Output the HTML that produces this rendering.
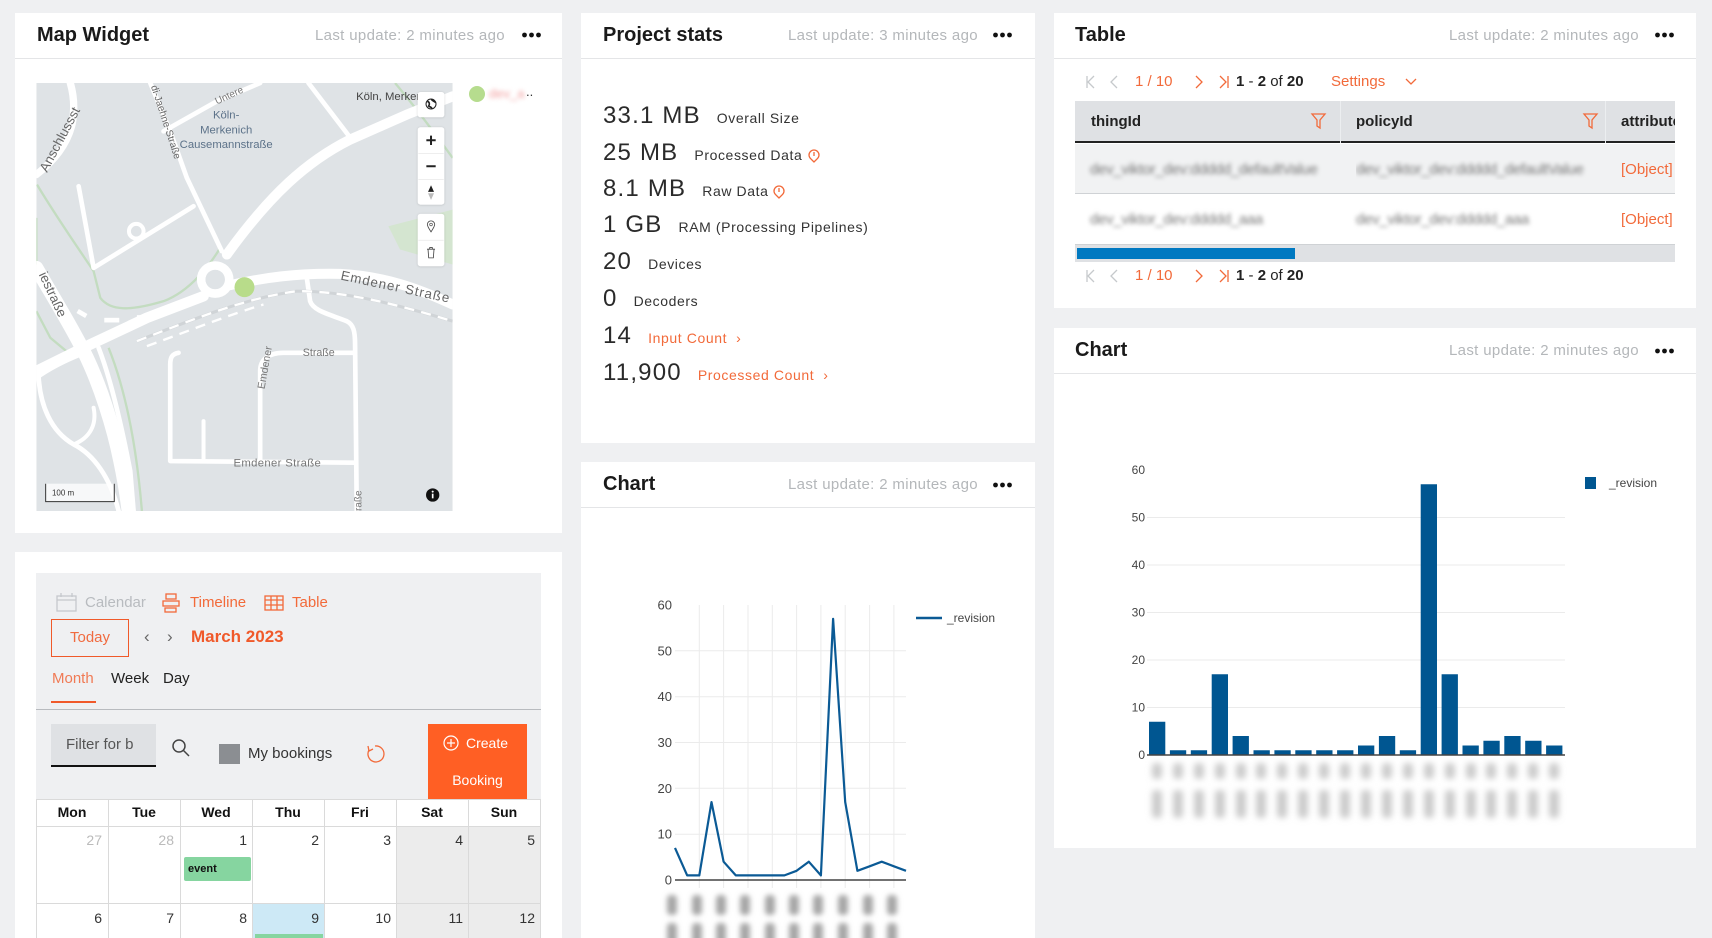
<!DOCTYPE html>
<html style="width:1712px;height:938px;overflow:hidden"><head><meta charset="utf-8">
<style>
*{margin:0;padding:0;box-sizing:border-box}
body{width:1712px;height:938px;overflow:hidden;background:#eff0f2;font-family:"Liberation Sans",sans-serif;position:relative;color:#222}
.abs{position:absolute}
.card{position:absolute;background:#fff}
.hdr{position:absolute;left:0;right:0;top:0;height:46px;border-bottom:1px solid #e4e5e7}
.title{position:absolute;left:22px;top:0;line-height:45px;font-size:20px;font-weight:bold;color:#1a1a1a}
.upd{position:absolute;right:57px;top:0;line-height:45px;font-size:15px;color:#b4b7ba;letter-spacing:0.35px;white-space:nowrap}
.row{position:absolute;left:603px;display:flex;align-items:baseline;white-space:nowrap;height:30px;line-height:30px}
.num{font-size:24px;letter-spacing:1.2px;color:#2a2a2a}
.lbl{font-size:14px;letter-spacing:0.6px;color:#333;margin-left:16px}
.org{color:#f26a3a}
.t15{font-size:15px;white-space:nowrap;position:absolute;line-height:20px}
.blur{filter:blur(2.2px)}
.calh{position:absolute;top:799px;height:27px;line-height:27px;text-align:center;font-weight:bold;font-size:14px;color:#111}
.dnum{position:absolute;font-size:14px;text-align:right;line-height:20px;color:#333}
</style></head><body>

<!-- cards -->
<div class="card" style="left:15px;top:13px;width:547px;height:520px">
  <div class="hdr"><div class="title">Map Widget</div><div class="upd">Last update: 2 minutes ago</div></div>
</div>
<div class="card" style="left:15px;top:552px;width:547px;height:386px"></div>
<div class="card" style="left:581px;top:13px;width:454px;height:430px">
  <div class="hdr"><div class="title">Project stats</div><div class="upd">Last update: 3 minutes ago</div></div>
</div>
<div class="card" style="left:581px;top:462px;width:454px;height:476px">
  <div class="hdr"><div class="title">Chart</div><div class="upd">Last update: 2 minutes ago</div></div>
</div>
<div class="card" style="left:1054px;top:13px;width:642px;height:295px">
  <div class="hdr"><div class="title" style="left:21px">Table</div><div class="upd">Last update: 2 minutes ago</div></div>
</div>
<div class="card" style="left:1054px;top:328px;width:642px;height:520px">
  <div class="hdr"><div class="title" style="left:21px">Chart</div><div class="upd">Last update: 2 minutes ago</div></div>
</div>

<!-- MAP -->
<svg class="abs" style="left:36px;top:83px" width="417" height="428" viewBox="18 15 1250 1285" font-family="Liberation Sans, sans-serif">
<defs><clipPath id="mc"><rect x="18" y="15" width="1250" height="1285"/></clipPath>
<filter id="sh" x="-20%" y="-20%" width="140%" height="140%"><feDropShadow dx="0" dy="1" stdDeviation="3" flood-color="#000" flood-opacity="0.18"/></filter></defs>
<g clip-path="url(#mc)">
<rect x="18" y="15" width="1250" height="1285" fill="#dfe3e6"/>
<path d="M1075,445 L1268,395 L1268,560 L1110,515 Z" fill="#d4e5d0"/>
<g fill="none" stroke="#c3dcc0" stroke-width="7">
<path d="M20,320 C80,420 150,520 190,580 L210,660 C240,700 300,700 400,670 C480,640 540,560 570,510"/>
<path d="M18,700 L60,780 L120,830"/>
<path d="M235,810 C275,910 315,1060 335,1300"/>
<path d="M1095,15 C1150,80 1210,160 1268,240"/>
<path d="M18,420 L18,560"/>
</g>
<g fill="none" stroke="#fff" stroke-linecap="round" stroke-linejoin="round">
<path d="M1268,55 L1130,110 L960,185 C830,250 720,350 590,530" stroke-width="30"/>
<path d="M600,622 C700,600 800,585 930,588 C1060,595 1160,630 1268,680" stroke-width="30"/>
<path d="M520,655 L350,720 L180,800 L18,880" stroke-width="32"/>
<path d="M18,570 C70,660 120,740 160,820 C210,920 250,1050 270,1150 C285,1220 290,1260 295,1300" stroke-width="42"/>
<path d="M205,810 C240,900 275,1050 300,1180 L310,1300" stroke-width="14"/>
<path d="M18,290 C70,250 110,200 125,140 C135,90 130,50 120,15" stroke-width="22"/>
<path d="M360,15 L420,160 L470,300 L575,520" stroke-width="14"/>
<path d="M400,160 L560,70 L690,15" stroke-width="14"/>
<path d="M835,15 L965,185" stroke-width="14"/>
<path d="M145,325 L190,570 L490,385" stroke-width="14"/>
<circle cx="318" cy="460" r="22" stroke-width="12"/>
<path d="M830,600 L840,670 C850,700 900,710 950,730 C970,740 975,760 975,800 L980,1300" stroke-width="14"/>
<path d="M445,825 C425,828 420,840 420,860 L420,1150 L975,1155" stroke-width="14"/>
<path d="M520,1030 L520,1150" stroke-width="12"/>
<path d="M690,1150 L690,880 C690,845 715,825 760,825 L975,825" stroke-width="14"/>
<path d="M18,900 C60,870 100,850 150,830" stroke-width="14"/>
<path d="M25,900 C30,980 60,1060 130,1100 C190,1130 240,1200 265,1300" stroke-width="14"/>
<path d="M130,1100 C180,1080 200,1040 190,990" stroke-width="12"/>
<circle cx="555" cy="605" r="42" stroke-width="26"/>
</g>
<circle cx="555" cy="605" r="29" fill="#dfe3e6"/>
<path d="M320,790 C500,720 650,660 800,640 C950,640 1100,680 1268,730" fill="none" stroke="#d0d4d7" stroke-width="9"/>
<path d="M320,790 C500,720 650,660 800,640 C950,640 1100,680 1268,730" fill="none" stroke="#fff" stroke-width="7" stroke-dasharray="30,22"/>
<path d="M350,805 C500,750 600,710 700,680" fill="none" stroke="#fff" stroke-width="7" stroke-dasharray="30,22"/>
<g fill="#fff"><rect x="140" y="700" width="30" height="14" transform="rotate(30 155 707)"/><rect x="222" y="720" width="45" height="14"/><rect x="320" y="712" width="35" height="14"/></g>
<g font-size="34" fill="#5c7289" text-anchor="middle"><text x="588" y="122">Köln-</text><text x="588" y="166">Merkenich</text><text x="588" y="210">Causemannstraße</text></g>
<text x="978" y="66" font-size="34" fill="#444">Köln, Merkenich</text>
<text x="930" y="605" font-size="40" fill="#666" letter-spacing="3" transform="rotate(12 930 605)">Emdener Straße</text>
<text x="610" y="1166" font-size="34" fill="#777" letter-spacing="1">Emdener Straße</text>
<text x="818" y="835" font-size="32" fill="#777">Straße</text>
<text x="703" y="935" font-size="32" fill="#777" transform="rotate(-80 703 935)">Emdener</text>
<text x="50" y="285" font-size="40" fill="#666" transform="rotate(-62 50 285)">Anschlussst</text>
<text x="25" y="590" font-size="40" fill="#666" transform="rotate(65 25 590)">iestraße</text>
<text x="362" y="25" font-size="30" fill="#666" transform="rotate(72 362 25)">di-Jaehne-Straße</text>
<text x="560" y="80" font-size="30" fill="#777" transform="rotate(-25 560 80)">Untere</text>
<text x="995" y="1300" font-size="30" fill="#777" transform="rotate(-90 995 1300)">raße</text>
<circle cx="643" cy="628" r="30" fill="#b8dc8a"/>
<g filter="url(#sh)" fill="#fff"><rect x="1163" y="42" width="80" height="76" rx="8"/><rect x="1163" y="148" width="80" height="232" rx="8"/><rect x="1163" y="408" width="80" height="157" rx="8"/></g>
<circle cx="1203" cy="78" r="15" fill="none" stroke="#222" stroke-width="3"/><path d="M1192,70 C1198,72 1200,78 1196,84 C1200,88 1204,86 1206,92 M1204,64 C1208,70 1214,70 1217,74" stroke="#222" stroke-width="5" fill="none"/>
<g stroke="#e3e3e3" stroke-width="2"><line x1="1165" y1="226" x2="1241" y2="226"/><line x1="1165" y1="305" x2="1241" y2="305"/><line x1="1165" y1="487" x2="1241" y2="487"/></g>
<g stroke="#222" stroke-width="6"><line x1="1189" y1="187" x2="1217" y2="187"/><line x1="1203" y1="173" x2="1203" y2="201"/><line x1="1189" y1="265" x2="1217" y2="265"/></g>
<path d="M1203,322 L1212,342 L1194,342 Z" fill="#222"/><path d="M1203,366 L1212,346 L1194,346 Z" fill="#bbb"/>
<path d="M1203,462 C1195,450 1192,445 1192,440 A11,11 0 0 1 1214,440 C1214,445 1211,450 1203,462 Z" fill="none" stroke="#444" stroke-width="2.5"/><circle cx="1203" cy="440" r="4" fill="none" stroke="#444" stroke-width="2"/>
<g fill="none" stroke="#444" stroke-width="2.5"><path d="M1191,514 L1215,514"/><path d="M1194,514 L1196,540 L1210,540 L1212,514"/><path d="M1199,514 L1199,509 L1207,509 L1207,514"/></g>
<circle cx="1208" cy="1252" r="20" fill="#111"/><circle cx="1208" cy="1242" r="3" fill="#fff"/><rect x="1205.5" y="1248" width="5" height="14" fill="#fff"/>
<rect x="45" y="1218" width="208" height="54" fill="rgba(255,255,255,0.75)"/>
<path d="M46,1218 L46,1272 L252,1272 L252,1218" fill="none" stroke="#333" stroke-width="3"/>
<text x="65" y="1253" font-size="24" fill="#333">100 m</text>
</g></svg>
<svg class="abs" style="left:469px;top:86px" width="16" height="16"><circle cx="8" cy="8" r="8" fill="#b6dc8e"/></svg>
<div class="abs blur" style="left:489px;top:86px;font-size:13px;color:#f2a0a0;line-height:16px">dev_a</div>
<div class="abs" style="left:526px;top:84px;font-size:13px;color:#333;line-height:16px">..</div>

<!-- PROJECT STATS -->
<div class="row" style="top:101px"><span class="num">33.1 MB</span><span class="lbl">Overall Size</span></div>
<div class="row" style="top:138px"><span class="num">25 MB</span><span class="lbl">Processed Data</span></div>
<div class="row" style="top:174px"><span class="num">8.1 MB</span><span class="lbl">Raw Data</span></div>
<div class="row" style="top:210px"><span class="num">1 GB</span><span class="lbl">RAM (Processing Pipelines)</span></div>
<div class="row" style="top:247px"><span class="num">20</span><span class="lbl">Devices</span></div>
<div class="row" style="top:284px"><span class="num">0</span><span class="lbl">Decoders</span></div>
<div class="row" style="top:321px"><span class="num">14</span><span class="lbl org">Input Count &nbsp;›</span></div>
<div class="row" style="top:358px"><span class="num">11,900</span><span class="lbl org">Processed Count &nbsp;›</span></div>

<!-- TABLE -->
<div class="abs" style="left:1075px;top:101px;width:600px;height:42px;background:#dfe1e4;border-bottom:2px solid #222"></div>
<div class="abs" style="left:1340px;top:101px;width:1px;height:42px;background:#eceef0"></div>
<div class="abs" style="left:1605px;top:101px;width:1px;height:42px;background:#eceef0"></div>
<div class="t15" style="left:1091px;top:112px;font-weight:bold;color:#222">thingId</div>
<div class="t15" style="left:1356px;top:112px;font-weight:bold;color:#222">policyId</div>
<div class="abs" style="left:1621px;top:112px;width:54px;overflow:hidden"><div class="t15" style="position:static;font-weight:bold;color:#222">attributes</div></div>
<div class="abs" style="left:1075px;top:144px;width:600px;height:50px;background:#f1f2f3;border-bottom:1px solid #cfd2d5"></div>
<div class="abs" style="left:1075px;top:195px;width:600px;height:50px;background:#fff;border-bottom:1px solid #cfd2d5"></div>
<div class="t15 blur" style="left:1090px;top:160px;color:#777;letter-spacing:-0.3px">dev_viktor_dev:ddddd_defaultValue</div>
<div class="abs" style="left:1356px;top:160px;width:245px;overflow:hidden"><div class="t15 blur" style="position:static;color:#777;letter-spacing:-0.3px">dev_viktor_dev:ddddd_defaultValue</div></div>
<div class="t15 blur" style="left:1090px;top:210px;color:#777;letter-spacing:-0.3px">dev_viktor_dev:ddddd_aaa</div>
<div class="t15 blur" style="left:1356px;top:210px;color:#777;letter-spacing:-0.3px">dev_viktor_dev:ddddd_aaa</div>
<div class="abs" style="left:1621px;top:160px;width:54px;overflow:hidden"><div class="t15 org" style="position:static">[Object]</div></div>
<div class="abs" style="left:1621px;top:210px;width:54px;overflow:hidden"><div class="t15 org" style="position:static">[Object]</div></div>
<div class="abs" style="left:1075px;top:245px;width:600px;height:17px;background:#dfe1e4"></div>
<div class="abs" style="left:1077px;top:248px;width:218px;height:11px;background:#0079c1"></div>
<div class="t15 org" style="left:1135px;top:72px">1 / 10</div>
<div class="t15" style="left:1236px;top:72px;color:#222"><b>1</b> - <b>2</b> of <b>20</b></div>
<div class="t15 org" style="left:1331px;top:72px">Settings</div>
<div class="t15 org" style="left:1135px;top:266px">1 / 10</div>
<div class="t15" style="left:1236px;top:266px;color:#222"><b>1</b> - <b>2</b> of <b>20</b></div>

<!-- CALENDAR -->
<div class="abs" style="left:36px;top:573px;width:505px;height:365px;background:#eff0f2"></div>
<div class="t15" style="left:85px;top:593px;color:#b8bbbf">Calendar</div>
<div class="t15 org" style="left:190px;top:593px">Timeline</div>
<div class="t15 org" style="left:292px;top:593px">Table</div>
<div class="abs" style="left:51px;top:619px;width:78px;height:38px;border:1px solid #f0592a;color:#f06b40;font-size:15px;line-height:36px;text-align:center">Today</div>
<div class="t15" style="left:144px;top:627px;color:#666;font-size:17px">‹</div>
<div class="t15" style="left:167px;top:627px;color:#666;font-size:17px">›</div>
<div class="t15" style="left:191px;top:627px;font-size:17px;font-weight:bold;color:#f0592a">March 2023</div>
<div class="t15" style="left:52px;top:669px;color:#f07a55">Month</div>
<div class="t15" style="left:111px;top:669px;color:#222">Week</div>
<div class="t15" style="left:163px;top:669px;color:#222">Day</div>
<div class="abs" style="left:51px;top:701px;width:45px;height:2px;background:#f0592a"></div>
<div class="abs" style="left:36px;top:709px;width:505px;height:1px;background:#b8bbbf"></div>
<div class="abs" style="left:51px;top:724px;width:105px;height:43px;background:#dfe1e4;border-bottom:2px solid #111"></div>
<div class="t15" style="left:66px;top:735px;color:#555">Filter for b</div>
<div class="abs" style="left:219px;top:744px;width:21px;height:20px;background:#8b8e92"></div>
<div class="t15" style="left:248px;top:744px;color:#333">My bookings</div>
<div class="abs" style="left:428px;top:724px;width:99px;height:75px;background:#ff5f24"></div>
<div class="t15" style="left:466px;top:733px;color:#fff;font-size:14px">Create</div>
<div class="t15" style="left:428px;width:99px;text-align:center;top:770px;color:#fff;font-size:14px">Booking</div>
<div class="abs" style="left:36px;top:799px;width:505px;height:139px;background:#fff"></div>
<div class="abs" style="left:396.7px;top:826px;width:144.3px;height:112px;background:#ececec"></div>
<div class="abs" style="left:252.4px;top:903px;width:72.2px;height:35px;background:#cde9f6"></div>
<div class="calh" style="left:36px;width:72px">Mon</div>
<div class="calh" style="left:108px;width:72px">Tue</div>
<div class="calh" style="left:180px;width:72px">Wed</div>
<div class="calh" style="left:252px;width:72px">Thu</div>
<div class="calh" style="left:324px;width:72px">Fri</div>
<div class="calh" style="left:396px;width:72px">Sat</div>
<div class="calh" style="left:468px;width:72px">Sun</div>
<div class="dnum" style="left:36px;width:66px;top:830px;color:#bbb">27</div>
<div class="dnum" style="left:108px;width:66px;top:830px;color:#bbb">28</div>
<div class="dnum" style="left:180px;width:67px;top:830px">1</div>
<div class="dnum" style="left:252px;width:67px;top:830px">2</div>
<div class="dnum" style="left:324px;width:67px;top:830px">3</div>
<div class="dnum" style="left:396px;width:67px;top:830px">4</div>
<div class="dnum" style="left:468px;width:67px;top:830px">5</div>
<div class="dnum" style="left:36px;width:66px;top:908px">6</div>
<div class="dnum" style="left:108px;width:66px;top:908px">7</div>
<div class="dnum" style="left:180px;width:67px;top:908px">8</div>
<div class="dnum" style="left:252px;width:67px;top:908px">9</div>
<div class="dnum" style="left:324px;width:67px;top:908px">10</div>
<div class="dnum" style="left:396px;width:67px;top:908px">11</div>
<div class="dnum" style="left:468px;width:67px;top:908px">12</div>
<div class="abs" style="left:184px;top:857px;width:67px;height:24px;background:#86d5a0;border-radius:2px;font-size:11px;font-weight:bold;line-height:24px;padding-left:4px;color:#111">event</div>
<div class="abs" style="left:255px;top:934px;width:68px;height:4px;background:#86d5a0"></div>

<!-- OVERLAY SVG: charts & icons -->
<svg class="abs" style="left:0;top:0" width="1712" height="938" font-family="Liberation Sans, sans-serif">
<defs><filter id="bl" x="-100%" y="-50%" width="300%" height="200%"><feGaussianBlur stdDeviation="2.6"/></filter>
<filter id="bl2" x="-100%" y="-50%" width="300%" height="200%"><feGaussianBlur stdDeviation="3.2"/></filter></defs>
<!-- header dots -->
<g fill="#111">
<circle cx="524.5" cy="35" r="2.4"/><circle cx="531.5" cy="35" r="2.4"/><circle cx="538.5" cy="35" r="2.4"/>
<circle cx="995.5" cy="35" r="2.4"/><circle cx="1002.5" cy="35" r="2.4"/><circle cx="1009.5" cy="35" r="2.4"/>
<circle cx="995.5" cy="485" r="2.4"/><circle cx="1002.5" cy="485" r="2.4"/><circle cx="1009.5" cy="485" r="2.4"/>
<circle cx="1657.5" cy="35" r="2.4"/><circle cx="1664.5" cy="35" r="2.4"/><circle cx="1671.5" cy="35" r="2.4"/>
<circle cx="1657.5" cy="351" r="2.4"/><circle cx="1664.5" cy="351" r="2.4"/><circle cx="1671.5" cy="351" r="2.4"/>
</g>
<!-- stats info icons -->
<g fill="none" stroke="#f26a3a" stroke-width="1.3">
<path d="M814,162 L811,159 A5,5 0 1 1 817,159 Z"/><line x1="814" y1="152" x2="814" y2="156"/>
<path d="M779,198 L776,195 A5,5 0 1 1 782,195 Z"/><line x1="779" y1="188" x2="779" y2="192"/>
</g>
<!-- table pagination icons -->
<g fill="none" stroke-width="1.3">
<g stroke="#c6c9cc"><path d="M1087,76 L1087,88 M1094,76 L1088,82 L1094,88"/><path d="M1117,76 L1111,82 L1117,88"/>
<path d="M1087,270 L1087,282 M1094,270 L1088,276 L1094,282"/><path d="M1117,270 L1111,276 L1117,282"/></g>
<g stroke="#f26a3a"><path d="M1196,76 L1202,82 L1196,88"/><path d="M1220,76 L1226,82 L1220,88 M1228,76 L1228,88"/>
<path d="M1196,270 L1202,276 L1196,282"/><path d="M1220,270 L1226,276 L1220,282 M1228,270 L1228,282"/>
<path d="M1406,79 L1411,84 L1416,79"/>
<path d="M1312,114 L1325,114 L1320,120 L1320,128 L1317,126 L1317,120 Z"/>
<path d="M1584,114 L1597,114 L1592,120 L1592,128 L1589,126 L1589,120 Z"/></g>
</g>
<!-- calendar icons -->
<g fill="none" stroke-width="1.3">
<g stroke="#c5c8cc"><rect x="57" y="596" width="19" height="15"/><line x1="57" y1="600" x2="76" y2="600"/><line x1="61" y1="593" x2="61" y2="597"/><line x1="72" y1="593" x2="72" y2="597"/></g>
<g stroke="#f26a3a"><rect x="166" y="594" width="10" height="5"/><rect x="163" y="601" width="16" height="5"/><rect x="165" y="608" width="11" height="4"/>
<rect x="265" y="596" width="18" height="14"/><line x1="265" y1="600" x2="283" y2="600"/><line x1="265" y1="605" x2="283" y2="605"/><line x1="271" y1="596" x2="271" y2="610"/><line x1="277" y1="596" x2="277" y2="610"/>
<path d="M369,750 A8,8 0 1 0 375,746"/><path d="M368,746 L369,751 L373,749"/></g>
<g stroke="#444" stroke-width="1.5"><circle cx="179" cy="746" r="6"/><line x1="183.5" y1="750.5" x2="189" y2="756"/></g>
<g stroke="#fff" stroke-width="1.2"><circle cx="451" cy="743" r="7"/><line x1="451" y1="739" x2="451" y2="747"/><line x1="447" y1="743" x2="455" y2="743"/></g>
</g>
<!-- calendar grid -->
<g stroke="#dadada" stroke-width="1">
<line x1="36" y1="799.5" x2="541" y2="799.5"/><line x1="36" y1="826.5" x2="541" y2="826.5"/><line x1="36" y1="903.5" x2="541" y2="903.5"/>
<line x1="36.5" y1="799" x2="36.5" y2="938"/><line x1="108.5" y1="799" x2="108.5" y2="938"/><line x1="180.5" y1="799" x2="180.5" y2="938"/><line x1="252.5" y1="799" x2="252.5" y2="938"/><line x1="324.5" y1="799" x2="324.5" y2="938"/><line x1="396.5" y1="799" x2="396.5" y2="938"/><line x1="468.5" y1="799" x2="468.5" y2="938"/><line x1="540.5" y1="799" x2="540.5" y2="938"/>
</g>

<!-- LINE CHART -->
<g stroke="#ebebeb" stroke-width="1">
<line x1="675" y1="834.2" x2="906" y2="834.2"/><line x1="675" y1="788.3" x2="906" y2="788.3"/><line x1="675" y1="742.5" x2="906" y2="742.5"/><line x1="675" y1="696.7" x2="906" y2="696.7"/><line x1="675" y1="650.8" x2="906" y2="650.8"/>
<line x1="699.3" y1="605" x2="699.3" y2="888"/><line x1="723.6" y1="605" x2="723.6" y2="888"/><line x1="748" y1="605" x2="748" y2="888"/><line x1="772.3" y1="605" x2="772.3" y2="888"/><line x1="796.6" y1="605" x2="796.6" y2="888"/><line x1="820.9" y1="605" x2="820.9" y2="888"/><line x1="845.2" y1="605" x2="845.2" y2="888"/><line x1="869.6" y1="605" x2="869.6" y2="888"/><line x1="893.9" y1="605" x2="893.9" y2="888"/>
</g>
<line x1="675" y1="880" x2="906" y2="880" stroke="#444" stroke-width="1.5"/>
<polyline fill="none" stroke="#0b5a95" stroke-width="2.2" stroke-linejoin="round" points="675,847.9 687.2,875.4 699.3,875.4 711.5,802.1 723.6,861.7 735.8,875.4 748,875.4 760.1,875.4 772.3,875.4 784.4,875.4 796.6,870.8 808.8,861.7 820.9,875.4 833.1,618.8 845.2,802.1 857.4,870.8 869.6,866.3 881.7,861.7 893.9,866.3 906,870.8"/>
<g font-size="13" fill="#444" text-anchor="end">
<text x="672" y="884.5">0</text><text x="672" y="838.7">10</text><text x="672" y="792.8">20</text><text x="672" y="747">30</text><text x="672" y="701.2">40</text><text x="672" y="655.3">50</text><text x="672" y="609.5">60</text>
</g>
<line x1="916" y1="618" x2="942" y2="618" stroke="#0b5a95" stroke-width="2.5"/>
<text x="947" y="622" font-size="12" fill="#444">_revision</text>
<g fill="#a6a6a6" filter="url(#bl)">
<rect x="667" y="895" width="10" height="20" rx="4"/><rect x="692" y="895" width="10" height="20" rx="4"/><rect x="716" y="895" width="10" height="20" rx="4"/><rect x="740" y="895" width="10" height="20" rx="4"/><rect x="765" y="895" width="10" height="20" rx="4"/><rect x="789" y="895" width="10" height="20" rx="4"/><rect x="813" y="895" width="10" height="20" rx="4"/><rect x="838" y="895" width="10" height="20" rx="4"/><rect x="863" y="895" width="10" height="20" rx="4"/><rect x="887" y="895" width="10" height="20" rx="4"/>
<rect x="667" y="923" width="10" height="22" rx="4"/><rect x="692" y="923" width="10" height="22" rx="4"/><rect x="716" y="923" width="10" height="22" rx="4"/><rect x="740" y="923" width="10" height="22" rx="4"/><rect x="765" y="923" width="10" height="22" rx="4"/><rect x="789" y="923" width="10" height="22" rx="4"/><rect x="813" y="923" width="10" height="22" rx="4"/><rect x="838" y="923" width="10" height="22" rx="4"/><rect x="863" y="923" width="10" height="22" rx="4"/><rect x="887" y="923" width="10" height="22" rx="4"/>
</g>

<!-- BAR CHART -->
<g stroke="#ebebeb" stroke-width="1">
<line x1="1147" y1="707.5" x2="1565" y2="707.5"/><line x1="1147" y1="660" x2="1565" y2="660"/><line x1="1147" y1="612.5" x2="1565" y2="612.5"/><line x1="1147" y1="565" x2="1565" y2="565"/><line x1="1147" y1="517.5" x2="1565" y2="517.5"/>
</g>
<g fill="#005691">
<rect x="1149" y="721.75" width="16.3" height="33.25"/>
<rect x="1169.9" y="750.25" width="16.3" height="4.75"/>
<rect x="1190.8" y="750.25" width="16.3" height="4.75"/>
<rect x="1211.7" y="674.25" width="16.3" height="80.75"/>
<rect x="1232.6" y="736" width="16.3" height="19"/>
<rect x="1253.5" y="750.25" width="16.3" height="4.75"/>
<rect x="1274.4" y="750.25" width="16.3" height="4.75"/>
<rect x="1295.3" y="750.25" width="16.3" height="4.75"/>
<rect x="1316.2" y="750.25" width="16.3" height="4.75"/>
<rect x="1337.1" y="750.25" width="16.3" height="4.75"/>
<rect x="1358" y="745.5" width="16.3" height="9.5"/>
<rect x="1378.9" y="736" width="16.3" height="19"/>
<rect x="1399.8" y="750.25" width="16.3" height="4.75"/>
<rect x="1420.7" y="484.25" width="16.3" height="270.75"/>
<rect x="1441.6" y="674.25" width="16.3" height="80.75"/>
<rect x="1462.5" y="745.5" width="16.3" height="9.5"/>
<rect x="1483.4" y="740.75" width="16.3" height="14.25"/>
<rect x="1504.3" y="736" width="16.3" height="19"/>
<rect x="1525.2" y="740.75" width="16.3" height="14.25"/>
<rect x="1546.1" y="745.5" width="16.3" height="9.5"/>
</g>
<line x1="1147" y1="755" x2="1565" y2="755" stroke="#444" stroke-width="1.5"/>
<g font-size="12" fill="#444" text-anchor="end">
<text x="1145" y="759">0</text><text x="1145" y="711.5">10</text><text x="1145" y="664">20</text><text x="1145" y="616.5">30</text><text x="1145" y="569">40</text><text x="1145" y="521.5">50</text><text x="1145" y="474">60</text>
</g>
<rect x="1585" y="477" width="11" height="12" fill="#005691"/>
<text x="1609" y="487" font-size="12" fill="#444">_revision</text>
<g fill="#cbcbcb" filter="url(#bl2)">
<rect x="1152" y="763" width="10" height="16" rx="4"/><rect x="1173" y="763" width="10" height="16" rx="4"/><rect x="1194" y="763" width="10" height="16" rx="4"/><rect x="1215" y="763" width="10" height="16" rx="4"/><rect x="1236" y="763" width="10" height="16" rx="4"/><rect x="1256" y="763" width="10" height="16" rx="4"/><rect x="1277" y="763" width="10" height="16" rx="4"/><rect x="1298" y="763" width="10" height="16" rx="4"/><rect x="1319" y="763" width="10" height="16" rx="4"/><rect x="1340" y="763" width="10" height="16" rx="4"/><rect x="1361" y="763" width="10" height="16" rx="4"/><rect x="1382" y="763" width="10" height="16" rx="4"/><rect x="1403" y="763" width="10" height="16" rx="4"/><rect x="1424" y="763" width="10" height="16" rx="4"/><rect x="1445" y="763" width="10" height="16" rx="4"/><rect x="1466" y="763" width="10" height="16" rx="4"/><rect x="1486" y="763" width="10" height="16" rx="4"/><rect x="1507" y="763" width="10" height="16" rx="4"/><rect x="1528" y="763" width="10" height="16" rx="4"/><rect x="1549" y="763" width="10" height="16" rx="4"/>
<rect x="1152" y="790" width="10" height="28" rx="4"/><rect x="1173" y="790" width="10" height="28" rx="4"/><rect x="1194" y="790" width="10" height="28" rx="4"/><rect x="1215" y="790" width="10" height="28" rx="4"/><rect x="1236" y="790" width="10" height="28" rx="4"/><rect x="1256" y="790" width="10" height="28" rx="4"/><rect x="1277" y="790" width="10" height="28" rx="4"/><rect x="1298" y="790" width="10" height="28" rx="4"/><rect x="1319" y="790" width="10" height="28" rx="4"/><rect x="1340" y="790" width="10" height="28" rx="4"/><rect x="1361" y="790" width="10" height="28" rx="4"/><rect x="1382" y="790" width="10" height="28" rx="4"/><rect x="1403" y="790" width="10" height="28" rx="4"/><rect x="1424" y="790" width="10" height="28" rx="4"/><rect x="1445" y="790" width="10" height="28" rx="4"/><rect x="1466" y="790" width="10" height="28" rx="4"/><rect x="1486" y="790" width="10" height="28" rx="4"/><rect x="1507" y="790" width="10" height="28" rx="4"/><rect x="1528" y="790" width="10" height="28" rx="4"/><rect x="1549" y="790" width="10" height="28" rx="4"/>
</g>
</svg>
</body></html>
